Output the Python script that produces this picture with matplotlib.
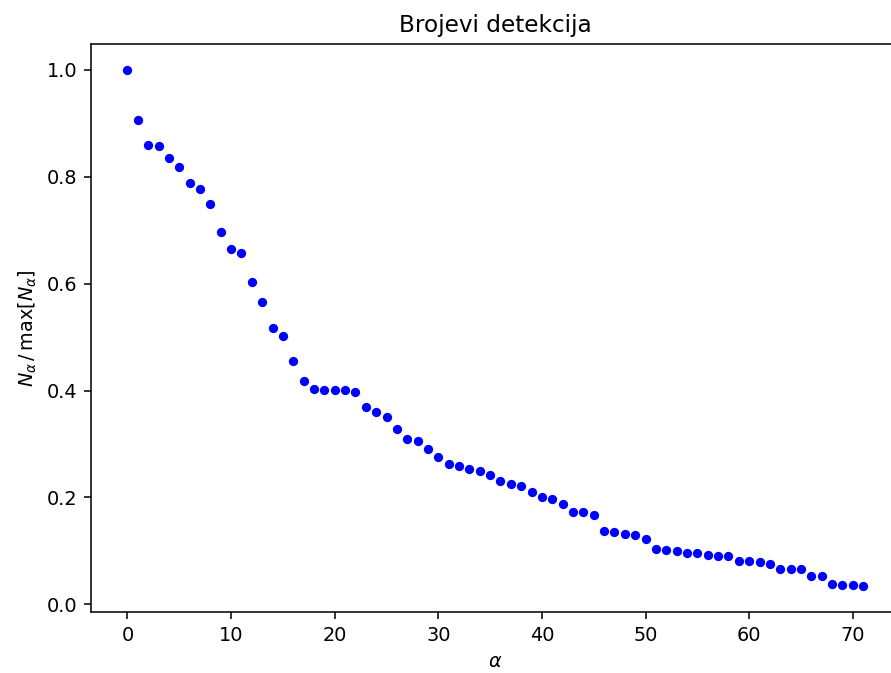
import numpy as np
import matplotlib
matplotlib.use('Agg')
import matplotlib.pyplot as plt

alpha = np.arange(72)
ratio = [1.0, 0.906, 0.86, 0.857, 0.835, 0.818, 0.789, 0.777, 0.749, 0.697,
         0.665, 0.657, 0.603, 0.566, 0.517, 0.502, 0.455, 0.418, 0.403, 0.401,
         0.401, 0.401, 0.397, 0.369, 0.360, 0.350, 0.328, 0.309, 0.305, 0.290,
         0.275, 0.262, 0.258, 0.253, 0.249, 0.242, 0.230, 0.225, 0.221, 0.210,
         0.200, 0.197, 0.187, 0.172, 0.172, 0.167, 0.137, 0.135, 0.131, 0.129,
         0.122, 0.103, 0.101, 0.099, 0.097, 0.096, 0.092, 0.090, 0.090, 0.082,
         0.081, 0.079, 0.075, 0.067, 0.066, 0.066, 0.054, 0.054, 0.039, 0.037,
         0.037, 0.034]

dpi = 139
fig = plt.figure(figsize=(891/dpi, 673/dpi), dpi=dpi)
ax = fig.add_subplot(111)
# the original is cropped on the right, so the axes run past the edge
fig.subplots_adjust(left=0.1018, right=1.010, top=0.9346, bottom=0.0906)
ax.plot(alpha, ratio, 'o', color='blue', markersize=3.8)
ax.set_title('Brojevi detekcija')
ax.set_xlabel(r'$\alpha$')
ax.set_ylabel(r'$N_\alpha\,/\,\max[N_\alpha]$')
fig.savefig('out.png', dpi=dpi)
